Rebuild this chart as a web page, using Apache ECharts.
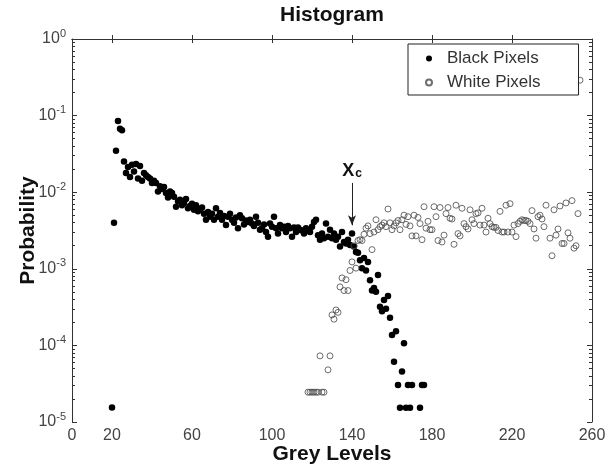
<!DOCTYPE html>
<html>
<head>
<meta charset="utf-8">
<script src="https://cdn.jsdelivr.net/npm/echarts@6/dist/echarts.min.js"></script>
<style>
html,body{margin:0;padding:0;background:#fff;}
#chart{width:616px;height:465px;}
</style>
</head>
<body>
<div id="chart"></div>
<script>
// ---- data ----
const blackLevels = [20,21,22,23,24,25,26,27,28,29,30,31,32,33,34,35,36,37,38,39,40,41,42,43,44,45,46,47,48,49,50,51,52,53,54,55,56,57,58,59,60,61,62,63,64,65,66,67,68,69,70,71,72,73,74,75,76,77,78,79,80,81,82,83,84,85,86,87,88,89,90,91,92,93,94,95,96,97,98,99,100,101,102,103,104,105,106,107,108,109,110,111,112,113,114,115,116,117,118,119,120,121,122,123,124,125,126,127,128,129,130,131,132,133,134,135,136,137,138,139,140,141,142,143,144,145,146,147,148,149,150,151,152,153,154,155,156,157,158,159,160,161,162,163,164,165,166,167,168,169,170,174,175,176];
const blackProb = [
 1.55e-5,3.98e-3,0.0347,0.0851,0.0676,0.0646,0.0251,0.0178,0.0214,0.0158,
 0.0229,0.0186,0.0234,0.0151,0.0219,0.0141,0.0178,0.0166,0.0158,0.0151,
 0.0132,0.0141,0.0132,0.0102,0.0120,0.0110,0.0117,0.00977,0.00851,0.0102,
 0.00977,0.00871,0.00646,0.00759,0.00794,0.00676,0.00724,0.00813,0.00617,0.00661,
 0.00708,0.00589,0.00676,0.00562,0.00589,0.00631,0.00525,0.00437,0.00550,0.00479,
 0.00525,0.00437,0.00617,0.00479,0.00537,0.00437,0.00490,0.00372,0.00479,0.00525,
 0.00437,0.00398,0.00468,0.00339,0.00501,0.00457,0.00380,0.00427,0.00407,0.00437,
 0.00389,0.00363,0.00479,0.00398,0.00324,0.00339,0.00380,0.00302,0.00263,0.00389,
 0.00355,0.00479,0.00339,0.00288,0.00372,0.00339,0.00355,0.00302,0.00363,0.00339,
 0.00263,0.00347,0.00302,0.00347,0.00324,0.00316,0.00288,0.00339,0.00316,0.00302,
 0.00355,0.00407,0.00437,0.00275,0.00240,0.00288,0.00251,0.00389,0.00263,0.00324,
 0.00251,0.00288,0.00240,0.00263,0.00195,0.00302,0.00224,0.00214,0.00240,0.00204,
 0.00288,0.00195,0.00166,0.00162,0.00129,0.00102,0.00138,0.00095,0.00123,0.00071,
 0.00052,0.00056,0.00050,0.00083,0.00032,0.00028,0.00039,0.00030,0.00044,0.00023,
 1.37e-4,6.10e-5,1.53e-4,3.05e-5,1.53e-5,4.58e-5,1.07e-4,1.53e-5,3.05e-5,1.53e-5,3.05e-5,
 1.53e-5,3.05e-5,3.05e-5
];
const whiteLevels = [118,119,120,121,122,123,124,125,126,128,129,130,131,132,133,134,135,136,137,138,139,140,141,142,143,144,145,146,147,148,149,150,151,152,153,154,155,156,157,158,159,160,161,162,163,164,165,166,167,168,169,170,171,172,173,174,175,176,177,178,179,180,181,182,183,184,185,186,187,188,189,190,191,192,193,194,195,196,197,198,199,200,201,202,203,204,205,206,207,208,209,210,211,212,213,214,215,216,217,218,219,220,221,222,223,224,225,226,227,228,229,230,231,232,233,234,235,236,237,239,240,241,242,243,244,245,246,247,248,249,250,251,252,253,254];
const whiteProb = [
 2.45e-5,2.45e-5,2.45e-5,2.45e-5,2.45e-5,2.45e-5,7.3e-5,2.45e-5,2.45e-5,
 4.8e-5,7.3e-5,
 2.5e-4,2.2e-4,2.9e-4,2.7e-4,5.8e-4,7.6e-4,5.2e-4,7.2e-4,5.2e-4,9.5e-4,
 1.23e-3,2.0e-3,1.02e-3,2.34e-3,2.40e-3,2.34e-3,2.82e-3,3.39e-3,3.63e-3,2.88e-3,
 1.78e-3,3.02e-3,4.37e-3,3.24e-3,3.55e-3,3.72e-3,3.98e-3,3.55e-3,6.03e-3,3.98e-3,
 3.24e-3,3.63e-3,3.98e-3,4.27e-3,3.24e-3,4.37e-3,5.01e-3,3.80e-3,4.79e-3,3.63e-3,
 2.69e-3,5.01e-3,2.69e-3,4.68e-3,3.89e-3,2.40e-3,6.46e-3,3.39e-3,4.17e-3,3.24e-3,
 3.24e-3,6.46e-3,4.79e-3,2.34e-3,6.31e-3,2.24e-3,2.75e-3,5.25e-3,6.31e-3,4.57e-3,
 4.47e-3,2.09e-3,6.76e-3,2.88e-3,2.69e-3,6.17e-3,3.89e-3,3.55e-3,3.31e-3,5.89e-3,
 4.37e-3,3.89e-3,5.25e-3,5.37e-3,3.72e-3,6.17e-3,3.72e-3,3.02e-3,4.57e-3,3.89e-3,
 3.55e-3,3.47e-3,3.47e-3,3.16e-3,5.62e-3,3.02e-3,3.02e-3,6.76e-3,3.02e-3,7.08e-3,
 3.02e-3,3.72e-3,2.63e-3,3.89e-3,4.17e-3,4.37e-3,4.27e-3,4.27e-3,4.17e-3,3.89e-3,
 5.75e-3,3.31e-3,2.51e-3,4.79e-3,5.01e-3,4.47e-3,3.55e-3,6.76e-3,
 2.51e-3,1.48e-3,5.89e-3,2.75e-3,3.31e-3,6.61e-3,2.14e-3,2.14e-3,7.24e-3,2.95e-3,2.51e-3,
 7.76e-3,1.86e-3,2.00e-3,5.25e-3,0.29
];
const xTickLabels = [0,20,60,100,140,180,220,260];
const xTicks = [20,60,100,140,180,220];
const thresholdLevel = 140;          // X_c
const arrowFrom = 0.0132, arrowTo = 0.0037;

// minor log ticks (exponent space)
const minorExp = [];
for (let k = -5; k < 0; k++) for (let m = 2; m <= 9; m++) minorExp.push(k + Math.log10(m));

const blackData = blackLevels.map((x, i) => [x, blackProb[i]]);
const whiteData = whiteLevels.map((x, i) => [x, whiteProb[i]]);

const axisCol = '#333';
const labCol = '#444';
const FONT = '"Liberation Sans", Arial, sans-serif';

const chart = echarts.init(document.getElementById('chart'), null, {renderer: 'canvas'});
chart.setOption({
  animation: false,
  backgroundColor: '#fff',
  textStyle: {fontFamily: FONT},
  title: {
    text: 'Histogram', left: 280, top: 5, padding: 0,
    textStyle: {fontFamily: FONT, fontSize: 21, fontWeight: 'bold', color: '#111'}
  },
  grid: {left: 72, right: 24, top: 39, bottom: 43, containLabel: false, outerBoundsMode: 'none'},
  legend: {
    orient: 'vertical', left: 408, top: 44,
    padding: [6, 38, 4, 17], itemGap: 7,
    borderColor: '#222', borderWidth: 1, backgroundColor: '#fff', z: 10,
    itemWidth: 6, itemHeight: 6,
    textStyle: {fontFamily: FONT, fontSize: 17, color: '#333', padding: [0, 0, 0, 10]},
    data: [{name: 'Black Pixels'}, {name: 'White Pixels'}]
  },
  xAxis: [{
    type: 'value', min: 0, max: 260, position: 'bottom',
    name: 'Grey Levels', nameLocation: 'middle', nameGap: 22, nameMoveOverlap: false,
    nameTextStyle: {fontFamily: FONT, fontSize: 21, fontWeight: 'bold', color: '#111'},
    axisLine: {lineStyle: {color: axisCol, width: 1}},
    axisTick: {inside: true, length: 4, customValues: xTicks, lineStyle: {color: axisCol}},
    axisLabel: {customValues: xTickLabels, fontSize: 16, color: labCol, margin: 6, fontFamily: FONT},
    splitLine: {show: false}
  }, {
    type: 'value', min: 0, max: 260, position: 'top',
    axisLine: {lineStyle: {color: axisCol, width: 1}},
    axisTick: {inside: true, length: 4, customValues: xTicks, lineStyle: {color: axisCol}},
    axisLabel: {show: false}, splitLine: {show: false}
  }],
  yAxis: [{
    type: 'log', logBase: 10, min: 1e-5, max: 1, position: 'left',
    name: 'Probability', nameLocation: 'middle', nameGap: 33, nameRotate: 90, nameMoveOverlap: false,
    nameTextStyle: {fontFamily: FONT, fontSize: 21, fontWeight: 'bold', color: '#111'},
    axisLine: {show: true, lineStyle: {color: axisCol, width: 1}},
    axisTick: {inside: true, length: 5, lineStyle: {color: axisCol}},
    axisLabel: {
      margin: 6,
      formatter: v => '{b|10}{s|' + Math.round(Math.log10(v)) + '}',
      rich: {
        b: {fontSize: 16, color: labCol, fontFamily: FONT},
        s: {fontSize: 11, color: labCol, fontFamily: FONT, verticalAlign: 'bottom', padding: [0, 0, 11, 0]}
      }
    },
    splitLine: {show: false}
  }, {
    type: 'value', min: -5, max: 0, position: 'left',
    axisLine: {show: false},
    axisTick: {inside: true, length: 3, customValues: minorExp, lineStyle: {color: axisCol}},
    axisLabel: {show: false}, splitLine: {show: false}
  }, {
    type: 'value', min: -5, max: 0, interval: 1, position: 'right',
    axisLine: {show: true, lineStyle: {color: axisCol, width: 1}},
    axisTick: {inside: true, length: 5, lineStyle: {color: axisCol}},
    axisLabel: {show: false}, splitLine: {show: false}
  }, {
    type: 'value', min: -5, max: 0, position: 'right',
    axisLine: {show: false},
    axisTick: {inside: true, length: 3, customValues: minorExp, lineStyle: {color: axisCol}},
    axisLabel: {show: false}, splitLine: {show: false}
  }],
  series: [{
    name: 'Black Pixels', type: 'scatter', xAxisIndex: 0, yAxisIndex: 0,
    data: blackData, symbol: 'circle', symbolSize: 6.5,
    itemStyle: {color: '#000', opacity: 1},
    markLine: {
      silent: true, animation: false,
      symbol: ['none', 'arrow'], symbolSize: [6, 10],
      lineStyle: {color: '#222', width: 1, type: 'solid'},
      label: {
        show: true, position: 'start', distance: 3,
        formatter: '{x|X}{c|c}',
        rich: {
          x: {fontSize: 18, fontWeight: 'bold', color: '#111', fontFamily: FONT},
          c: {fontSize: 12, fontWeight: 'bold', color: '#111', fontFamily: FONT, padding: [6, 0, 0, 1]}
        }
      },
      data: [[{coord: [thresholdLevel, arrowFrom]}, {coord: [thresholdLevel, arrowTo]}]]
    }
  }, {
    name: 'White Pixels', type: 'scatter', xAxisIndex: 0, yAxisIndex: 0,
    data: whiteData, symbol: 'circle', symbolSize: 6,
    itemStyle: {color: 'rgba(255,255,255,0)', borderColor: '#4a4a4a', borderWidth: 1}
  }]
});
</script>
</body>
</html>
